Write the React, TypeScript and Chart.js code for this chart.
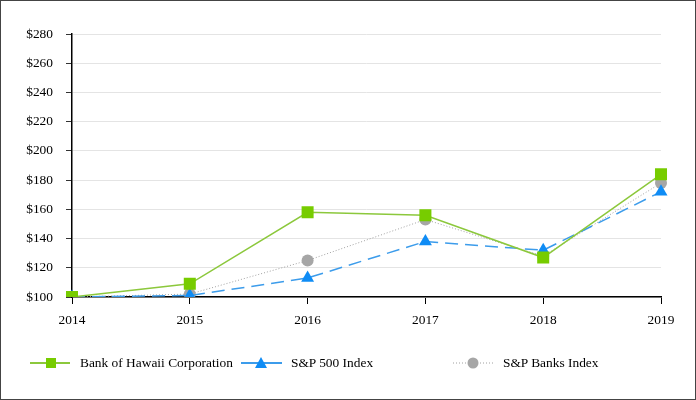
import React, { useEffect, useRef } from "react";
import { Chart, registerables } from "chart.js";

Chart.register(...registerables);

const years = ["2014", "2015", "2016", "2017", "2018", "2019"];
const bankOfHawaii = [100, 109, 158, 156, 127, 184];
const sp500 = [100, 101, 113, 138, 132, 172];
const spBanks = [100, 102, 125, 153, 128, 178];
const yMin = 100;
const yMax = 280;
const yStep = 20;
const seriesNames = ["Bank of Hawaii Corporation", "S&P 500 Index", "S&P Banks Index"];

const FONT = "'Liberation Serif', 'Times New Roman', serif";
const FS = 13.4;
const GREEN_LINE = "#8cc83c";
const GREEN_PT = "#77cc00";
const BLUE_LINE = "#3c9ceb";
const BLUE_PT = "#0f8cf5";
const GRAY_LINE = "#a0a0a0";
const GRAY_PT = "#a6a6a6";

function LegendItem({ left, name, kind }: { left: number; name: string; kind: number }) {
  let sample: React.ReactNode;
  if (kind === 0) {
    sample = (
      <svg width={42} height={14} style={{ display: "block" }}>
        <line x1={0} y1={7} x2={40} y2={7} stroke={GREEN_LINE} strokeWidth={2} />
        <rect x={16} y={2} width={10} height={10} fill={GREEN_PT} />
      </svg>
    );
  } else if (kind === 1) {
    sample = (
      <svg width={42} height={14} style={{ display: "block" }}>
        <line x1={0} y1={7} x2={41} y2={7} stroke={BLUE_LINE} strokeWidth={2} />
        <polygon points="20,1 26,12 14,12" fill={BLUE_PT} />
      </svg>
    );
  } else {
    sample = (
      <svg width={42} height={14} style={{ display: "block" }}>
        <line x1={0} y1={7} x2={40} y2={7} stroke={GRAY_LINE} strokeWidth={1} strokeDasharray="1 2" />
        <circle cx={20} cy={7} r={5.5} fill={GRAY_PT} />
      </svg>
    );
  }
  return (
    <div style={{ position: "absolute", left, top: 356, height: 14, display: "flex", alignItems: "center" }}>
      {sample}
      <span style={{ marginLeft: 8, fontFamily: FONT, fontSize: FS, color: "#000", whiteSpace: "nowrap" }}>{name}</span>
    </div>
  );
}

export default function App() {
  const ref = useRef<HTMLCanvasElement | null>(null);

  useEffect(() => {
    if (!ref.current) return;
    const chart = new Chart(ref.current, {
      type: "line",
      data: {
        labels: years,
        datasets: [
          {
            label: seriesNames[0],
            data: bankOfHawaii,
            borderColor: GREEN_LINE,
            backgroundColor: GREEN_PT,
            borderWidth: 1.5,
            pointStyle: "rect",
            pointRadius: 8.5,
            pointBorderWidth: 0,
            pointBackgroundColor: GREEN_PT,
            tension: 0,
          },
          {
            label: seriesNames[1],
            data: sp500,
            borderColor: BLUE_LINE,
            backgroundColor: BLUE_PT,
            borderWidth: 1.5,
            borderDash: [13, 7],
            pointStyle: "triangle",
            pointRadius: 7.5,
            pointBorderWidth: 0,
            pointBackgroundColor: BLUE_PT,
            tension: 0,
          },
          {
            label: seriesNames[2],
            data: spBanks,
            borderColor: GRAY_LINE,
            backgroundColor: GRAY_PT,
            borderWidth: 1,
            borderDash: [1, 2],
            pointStyle: "circle",
            pointRadius: 6,
            pointBorderWidth: 0,
            pointBackgroundColor: GRAY_PT,
            tension: 0,
          },
        ],
      },
      options: {
        responsive: false,
        animation: false,
        layout: { padding: { left: 0, right: 35, top: 34, bottom: 0 } },
        plugins: { legend: { display: false }, tooltip: { enabled: false } },
        scales: {
          x: {
            offset: false,
            afterFit: (s: any) => {
              s.height = 103;
            },
            grid: {
              display: true,
              drawOnChartArea: false,
              drawTicks: true,
              tickLength: 7,
              tickColor: "#000",
            },
            border: { display: true, color: "#000", width: 1.5 },
            ticks: { color: "#000", font: { family: FONT, size: FS }, padding: 8, maxRotation: 0 },
          },
          y: {
            min: yMin,
            max: yMax,
            afterFit: (s: any) => {
              s.width = 72;
            },
            grid: {
              color: "#e4e4e4",
              lineWidth: 1,
              drawTicks: true,
              tickLength: 6,
              tickColor: "#333",
            },
            border: { display: true, color: "#000", width: 1.5 },
            ticks: {
              stepSize: yStep,
              color: "#000",
              font: { family: FONT, size: FS },
              padding: 13,
              callback: (v: any) => "$" + v,
            },
          },
        },
      },
    });
    return () => chart.destroy();
  }, []);

  return (
    <div
      style={{
        position: "absolute",
        left: 0,
        top: 0,
        width: 696,
        height: 400,
        background: "#fff",
        overflow: "hidden",
      }}
    >
      <canvas ref={ref} width={696} height={400} style={{ position: "absolute", left: 0, top: 0, width: 696, height: 400 }} />
      <LegendItem left={30} name={seriesNames[0]} kind={0} />
      <LegendItem left={241} name={seriesNames[1]} kind={1} />
      <LegendItem left={453} name={seriesNames[2]} kind={2} />
      <div
        style={{
          position: "absolute",
          left: 0,
          top: 0,
          width: 696,
          height: 400,
          boxSizing: "border-box",
          border: "1.5px solid #444",
          pointerEvents: "none",
        }}
      />
    </div>
  );
}
